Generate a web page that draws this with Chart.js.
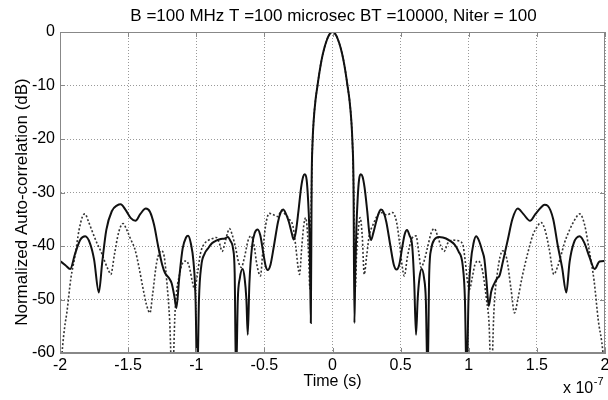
<!DOCTYPE html>
<html><head><meta charset="utf-8">
<script src="https://cdn.jsdelivr.net/npm/chart.js@4/dist/chart.umd.min.js"></script>
<style>html,body{margin:0;padding:0;background:#fff}#wrap{width:608px;height:400px}</style>
</head><body><div id="wrap"><canvas id="c" width="608" height="400"></canvas></div>
<script>
const titleText = "B =100 MHz T =100 microsec BT =10000, Niter = 100";
const xTitle = "Time (s)";
const yTitle = "Normalized Auto-correlation (dB)";
const xMultiplier = "x 10";
const xExponent = "-7";
const xTicks = [-2, -1.5, -1, -0.5, 0, 0.5, 1, 1.5, 2];
const yTicks = [0, -10, -20, -30, -40, -50, -60];

// Solid curve (time in units of 1e-7 s, level in dB)
const solidTime = [-2.00,-1.96,-1.925,-1.89,-1.85,-1.815,-1.78,-1.75,-1.715,-1.69,-1.66,-1.62,-1.58,-1.555,-1.52,-1.48,-1.446,-1.41,-1.37,-1.34,-1.31,-1.28,-1.25,-1.23,-1.20,-1.18,-1.16,-1.146,-1.125,-1.10,-1.075,-1.06,-1.04,-1.02,-1.005,-0.993,-0.98,-0.963,-0.94,-0.915,-0.885,-0.854,-0.82,-0.79,-0.768,-0.75,-0.73,-0.718,-0.708,-0.695,-0.68,-0.66,-0.645,-0.632,-0.622,-0.61,-0.59,-0.57,-0.549,-0.53,-0.51,-0.49,-0.476,-0.455,-0.43,-0.40,-0.38,-0.362,-0.345,-0.32,-0.30,-0.285,-0.27,-0.25,-0.23,-0.215,-0.203,-0.19,-0.18,-0.17,-0.164,-0.159,-0.153,-0.147,-0.138,-0.125,-0.11,-0.095,-0.08,-0.06,-0.04,-0.02,0,
0.02,0.04,0.06,0.08,0.095,0.11,0.125,0.138,0.147,0.154,0.161,0.167,0.175,0.185,0.195,0.207,0.22,0.235,0.255,0.27,0.283,0.30,0.32,0.34,0.356,0.375,0.395,0.425,0.45,0.47,0.49,0.51,0.53,0.547,0.565,0.585,0.60,0.613,0.625,0.638,0.654,0.672,0.685,0.698,0.71,0.725,0.748,0.784,0.81,0.833,0.86,0.895,0.925,0.956,0.972,0.985,0.998,1.015,1.035,1.054,1.075,1.10,1.115,1.13,1.147,1.165,1.19,1.21,1.225,1.25,1.287,1.32,1.36,1.40,1.45,1.49,1.53,1.556,1.58,1.62,1.654,1.685,1.716,1.74,1.77,1.814,1.85,1.885,1.924,1.96,2.00];
const solidDb = [-42.8,-43.6,-44.3,-41.5,-38.8,-38.2,-39.5,-42.5,-48.7,-43,-37,-33.5,-32.4,-32.2,-33.2,-34.8,-35.3,-34,-33,-33.6,-36,-40,-43.5,-45,-46,-47,-49.5,-51.6,-46,-40.5,-38.4,-38.1,-39.5,-43,-50,-66,-50,-43.7,-41.5,-40.5,-39.5,-39,-38.7,-38.6,-38.3,-39,-40.5,-45,-65,-50,-46,-44.3,-46,-50,-56.6,-47,-40,-37.5,-36.9,-38,-41,-43.8,-44.5,-43.5,-40,-35.5,-33.7,-33.2,-33.8,-35.5,-37.5,-38.8,-37.5,-33.5,-29,-27,-26.6,-27.6,-31,-37,-45,-54.4,-28,-21,-16.5,-12.8,-10,-7.4,-5.2,-3.0,-1.4,-0.35,0,
-0.35,-1.4,-3.0,-5.2,-7.4,-10,-12.8,-16.5,-21,-28,-54.4,-45,-37,-31,-27.6,-26.6,-27,-29,-33.5,-37.5,-38.9,-37.5,-35.5,-33.8,-33.2,-33.7,-35.5,-40,-43.5,-44.4,-43.5,-40.5,-37.8,-37,-38,-40,-47,-56.6,-50,-46,-44.3,-46,-50,-65,-45,-40.5,-38.8,-38.3,-38.4,-38.6,-39,-39.7,-41,-43.7,-50,-66,-50,-43,-39.5,-38.2,-39,-41,-42.5,-46.5,-51.2,-48.5,-46.9,-46,-45.6,-43,-38.8,-35,-33,-34,-35.3,-34,-32.8,-32.3,-32.5,-35,-40,-44,-48.7,-43,-39.5,-38.2,-39.5,-42,-44.3,-42.9,-42.8];

// Dotted curve
const dottedTime = [-2.00,-1.985,-1.965,-1.95,-1.92,-1.89,-1.86,-1.835,-1.817,-1.79,-1.76,-1.73,-1.70,-1.67,-1.645,-1.627,-1.60,-1.57,-1.537,-1.51,-1.48,-1.45,-1.42,-1.39,-1.365,-1.34,-1.32,-1.29,-1.256,-1.235,-1.215,-1.195,-1.176,-1.155,-1.12,-1.095,-1.073,-1.05,-1.03,-1.012,-0.99,-0.97,-0.951,-0.915,-0.88,-0.854,-0.83,-0.81,-0.79,-0.77,-0.756,-0.735,-0.71,-0.69,-0.67,-0.645,-0.62,-0.598,-0.575,-0.555,-0.529,-0.51,-0.49,-0.463,-0.43,-0.40,-0.378,-0.35,-0.317,-0.29,-0.27,-0.255,-0.242,-0.225,-0.21,-0.197,-0.185,-0.175,-0.166,-0.16,-0.153,-0.147,-0.138,-0.125,-0.11,-0.095,-0.08,-0.06,-0.04,-0.02,0,
0.02,0.04,0.06,0.08,0.095,0.11,0.125,0.138,0.147,0.154,0.161,0.167,0.176,0.189,0.203,0.218,0.233,0.25,0.27,0.294,0.325,0.355,0.40,0.44,0.47,0.49,0.51,0.527,0.55,0.58,0.613,0.632,0.65,0.67,0.70,0.725,0.748,0.77,0.795,0.82,0.845,0.88,0.92,0.956,0.975,0.99,1.005,1.025,1.045,1.066,1.09,1.11,1.13,1.15,1.164,1.185,1.21,1.25,1.28,1.31,1.336,1.36,1.39,1.434,1.47,1.50,1.53,1.56,1.59,1.625,1.65,1.68,1.703,1.74,1.78,1.814,1.85,1.887,1.92,1.95,1.985,2.00];
const dottedDb = [-66,-60,-55,-52.5,-46,-41.9,-37,-34.5,-34,-35.5,-37.5,-39.4,-41,-43,-44.5,-45.3,-41.5,-37.5,-35.8,-37,-38.8,-40.6,-44,-48,-51,-52.5,-49,-43,-40.9,-42,-47,-54,-66,-52,-45,-43,-42.8,-44,-46.5,-48.1,-45,-41.5,-40,-39,-38.6,-38.4,-39.5,-41,-39.5,-37.5,-36.75,-38,-40.5,-43,-44,-42,-39,-38.1,-40,-43.5,-45.6,-40.5,-36,-33.9,-34.2,-34.5,-33.4,-34,-35,-36.3,-40,-43.5,-45.3,-40,-36,-34.7,-37,-42,-48,-38,-28,-21,-16.5,-12.8,-10,-7.4,-5.2,-3.0,-1.4,-0.35,0,
-0.35,-1.4,-3.0,-5.2,-7.4,-10,-12.8,-16.5,-21,-28,-38,-48,-42,-37,-34.7,-38,-45.3,-42,-38,-36.25,-34.5,-33.75,-34.2,-33.75,-35.5,-39,-43.5,-45.6,-42,-38.8,-38.1,-41,-44,-43,-40,-37.5,-36.75,-38,-40,-41,-39.5,-38.9,-39,-39.7,-43,-46.5,-48.1,-46,-43.5,-42.8,-43.5,-46,-50,-55,-66,-52,-45,-40.9,-42.5,-48,-52.5,-50,-46,-41.25,-38,-36.5,-35.6,-37,-40.5,-45.3,-44,-41.5,-39.4,-37,-35,-34,-36,-41.25,-46.5,-53.75,-60,-66];

const FONT = "'Liberation Sans', Arial, Helvetica, sans-serif";
const toPoints = (xs, ys) => xs.map((x, i) => ({x, y: ys[i]}));

const framePlugin = {
  id: 'frame',
  afterDraw(chart) {
    const {ctx, chartArea: a, scales} = chart;
    ctx.save();
    ctx.strokeStyle = '#888';
    ctx.lineWidth = 1;
    ctx.strokeRect(a.left + 0.5, a.top + 0.5, a.right - a.left - 1, a.bottom - a.top - 1);
    ctx.beginPath();
    xTicks.forEach(v => {
      const px = Math.round(scales.x.getPixelForValue(v)) + 0.5;
      ctx.moveTo(px, a.bottom); ctx.lineTo(px, a.bottom - 5);
      ctx.moveTo(px, a.top); ctx.lineTo(px, a.top + 5);
    });
    yTicks.forEach(v => {
      const py = Math.round(scales.y.getPixelForValue(v)) + 0.5;
      ctx.moveTo(a.left, py); ctx.lineTo(a.left + 5, py);
      ctx.moveTo(a.right, py); ctx.lineTo(a.right - 5, py);
    });
    ctx.stroke();
    ctx.fillStyle = '#000';
    // chart title, centred over the plot area
    ctx.textBaseline = 'alphabetic';
    ctx.textAlign = 'center';
    ctx.font = '17px ' + FONT;
    ctx.fillText(titleText, (a.left + a.right) / 2 + 1, 21);
    // x-axis multiplier
    ctx.textAlign = 'left';
    ctx.font = '16px ' + FONT;
    const w = ctx.measureText(xMultiplier).width;
    const x0 = 563;
    ctx.fillText(xMultiplier, x0, 393);
    ctx.font = '11px ' + FONT;
    ctx.fillText(xExponent, x0 + w + 0.5, 385);
    // y-axis title
    ctx.translate(22, 202);
    ctx.rotate(-Math.PI / 2);
    ctx.textAlign = 'center';
    ctx.textBaseline = 'middle';
    ctx.font = '17px ' + FONT;
    ctx.fillText(yTitle, 0, 0);
    ctx.restore();
  }
};

new Chart(document.getElementById('c'), {
  type: 'line',
  data: {
    datasets: [
      { data: toPoints(solidTime, solidDb), borderColor: '#111', borderWidth: 2, pointRadius: 0,
        cubicInterpolationMode: 'monotone', fill: false, clip: 0 },
      { data: toPoints(dottedTime, dottedDb), borderColor: '#333', borderWidth: 1.6, borderDash: [2, 2],
        pointRadius: 0, cubicInterpolationMode: 'monotone', fill: false, clip: 0 }
    ]
  },
  options: {
    responsive: false, animation: false, devicePixelRatio: 1,
    layout: { padding: { left: 0, right: 3, top: 32, bottom: 0 } },
    plugins: {
      legend: { display: false }, tooltip: { enabled: false }, title: { display: false }
    },
    scales: {
      x: {
        type: 'linear', min: -2, max: 2,
        afterBuildTicks: s => { s.ticks = xTicks.map(v => ({ value: v })); },
        afterFit: s => { s.height = 47; s.paddingLeft = 0; s.paddingRight = 0; },
        ticks: { color: '#000', font: { family: FONT, size: 16 }, padding: 3, maxRotation: 0,
          callback: v => String(v) },
        grid: { color: '#999', lineWidth: 1, drawTicks: false },
        border: { display: true, color: '#888', dash: [1, 2] },
        title: { display: true, text: xTitle, color: '#000', font: { family: FONT, size: 16 }, padding: { top: 0, bottom: 9 } }
      },
      y: {
        type: 'linear', min: -60, max: 0,
        afterBuildTicks: s => { s.ticks = yTicks.map(v => ({ value: v })); },
        afterFit: s => { s.width = 60; s.paddingTop = 0; s.paddingBottom = 0; },
        ticks: { color: '#000', font: { family: FONT, size: 16 }, padding: 5, callback: v => String(v) },
        grid: { color: '#999', lineWidth: 1, drawTicks: false },
        border: { display: true, color: '#888', dash: [1, 2] },
        title: { display: false }
      }
    }
  },
  plugins: [framePlugin]
});
</script>
</body></html>
